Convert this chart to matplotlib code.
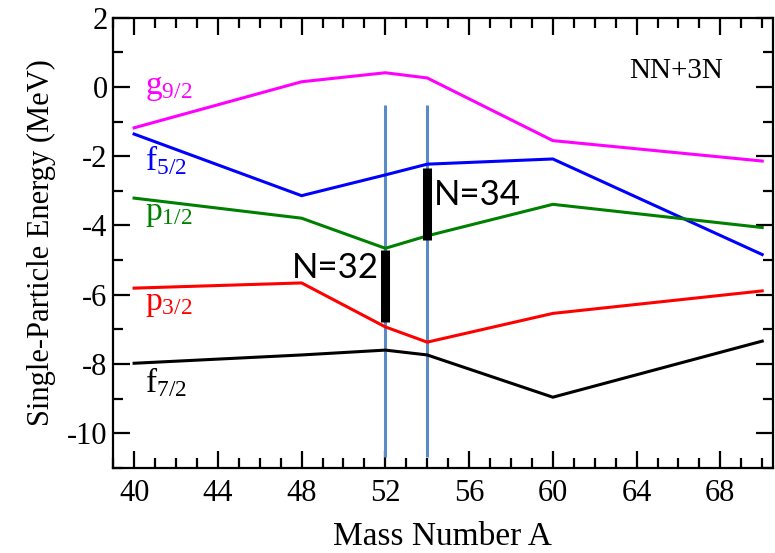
import matplotlib
matplotlib.use("Agg")
import matplotlib.pyplot as plt
from matplotlib.ticker import MultipleLocator

# ── data ───────────────────────────────────────────────────────────────────────
mass = [40, 48, 52, 54, 60, 70]
g92 = [-1.18, 0.15, 0.41, 0.26, -1.55, -2.14]
f52 = [-1.36, -3.14, -2.54, -2.23, -2.08, -4.84]
p12 = [-3.21, -3.79, -4.66, -4.30, -3.39, -4.06]
p32 = [-5.81, -5.66, -6.93, -7.37, -6.54, -5.89]
f72 = [-7.98, -7.74, -7.60, -7.74, -8.96, -7.34]

orbitals = ["g", "f", "p", "p", "f"]
subscripts = ["9/2", "5/2", "1/2", "3/2", "7/2"]
colors = ["#ff00ff", "#0000ff", "#008000", "#ff0000", "#000000"]
label_y = [-0.2, -2.4, -3.84, -6.45, -8.82]

shell_A = [52, 54]
shell_top = -0.52
shell_bottom = -10.7
gap_names = ["N=32", "N=34"]
gap_lo = [-6.8, -4.42]
gap_hi = [-4.71, -2.35]

# ── style ──────────────────────────────────────────────────────────────────────
plt.rcParams["font.family"] = "Liberation Serif"
plt.rcParams["mathtext.fontset"] = "custom"
plt.rcParams["mathtext.rm"] = "Liberation Serif"
plt.rcParams["mathtext.it"] = "Liberation Serif:italic"
plt.rcParams["axes.unicode_minus"] = False

fig = plt.figure(figsize=(7.75, 5.53), dpi=100)
ax = fig.add_axes([0.146, 0.154, 0.851, 0.814])

for ys, col in zip([g92, f52, p12, p32, f72], colors):
    ax.plot(mass, ys, color=col, lw=2.2, solid_joinstyle="miter", zorder=3)

for orb, sub, col, yl in zip(orbitals, subscripts, colors, label_y):
    ax.text(40.5, yl, orb + r"$_{\mathrm{" + sub + "}}$", color=col,
            fontsize=24, va="baseline", ha="left")

# shell-closure markers
ax.vlines(shell_A, shell_bottom, shell_top, color="#5b8bc5", lw=2.2, zorder=2)
ax.vlines(shell_A, gap_lo, gap_hi, color="black", lw=6.5, zorder=4)
ax.text(51.67, -5.52, gap_names[0], fontsize=25, family="Lato",
        ha="right", va="baseline")
ax.text(54.3, -3.41, gap_names[1], fontsize=25, family="Lato",
        ha="left", va="baseline")

ax.text(63.67, 0.27, "NN+3N", fontsize=21, ha="left", va="baseline")

ax.set_xlim(39, 70.5)
ax.set_ylim(-11, 2)
ax.xaxis.set_major_locator(MultipleLocator(4))
ax.xaxis.set_minor_locator(MultipleLocator(1))
ax.yaxis.set_major_locator(MultipleLocator(2))
ax.yaxis.set_minor_locator(MultipleLocator(1))
ax.tick_params(which="both", direction="in", top=True, right=True, width=1.6)
ax.tick_params(which="major", length=12, labelsize=22)
ax.tick_params(which="minor", length=7)
ax.tick_params(axis="x", pad=8)
ax.tick_params(axis="y", pad=4)
for s in ax.spines.values():
    s.set_linewidth(1.6)

ax.set_xlabel("Mass Number A", fontsize=24, labelpad=10)
ax.set_ylabel("Single-Particle Energy (MeV)", fontsize=22, labelpad=8)

fig.savefig("out.png", dpi=100)
